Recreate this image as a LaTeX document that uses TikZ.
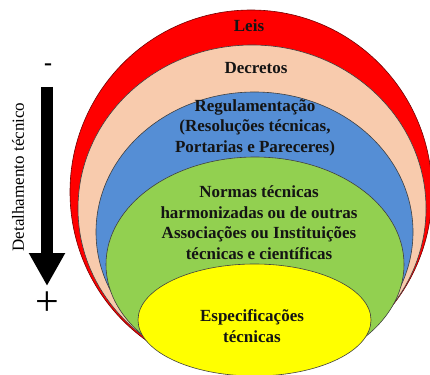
\documentclass[tikz,border=0pt]{standalone}
\usepackage{fontspec}
\setmainfont{Liberation Serif}
\usetikzlibrary{arrows.meta}
\definecolor{leiscor}{HTML}{FF0000}
\definecolor{decretocor}{HTML}{F8CBAD}
\definecolor{regcor}{HTML}{558ED5}
\definecolor{normacor}{HTML}{92D050}
\definecolor{especcor}{HTML}{FFFF00}
\begin{document}
\begin{tikzpicture}[x=1pt, y=-1pt,
	camada/.style = {draw=black!75, line width=0.6pt},
	rotulo/.style = {font=\bfseries\fontsize{17}{20.5}\selectfont, align=center, text=black!92}]
	\useasboundingbox (0,0) rectangle (430,374);
	\clip (0,0) rectangle (430,374);
	\draw[camada, fill=leiscor, draw=red!45!black] (251,192) ellipse [x radius=181, y radius=182];
	\draw[camada, fill=decretocor] (252,208.5) ellipse [x radius=174, y radius=163.5];
	\draw[camada, fill=regcor] (254.5,232) ellipse [x radius=158.5, y radius=140];
	\draw[camada, fill=normacor] (255,264.5) ellipse [x radius=149, y radius=107.5];
	\draw[camada, fill=especcor] (254.5,320) ellipse [x radius=116.5, y radius=56];
	\node[rotulo] (leis) at (249,26) {Leis};
	\node[rotulo] (decretos) at (256,68) {Decretos};
	\node[rotulo] (regulamento) at (255,127.5) {Regulamentação\\(Resoluções técnicas,\\Portarias e Pareceres)};
	\node[rotulo] (normas) at (259,222.5) {Normas técnicas\\harmonizadas ou de outras\\Associações ou Instituições\\técnicas e científicas};
	\node[rotulo] (especificacoes) at (252,326) {Especificações\\técnicas};
	\node[rotate=90, font=\fontsize{17}{17}\selectfont] (detalhe) at (18,177) {Detalhamento técnico};
	\node[font=\bfseries\fontsize{24}{24}\selectfont] (menos) at (48,67) {-};
	\node[font=\fontsize{42}{42}\selectfont] (mais) at (47,304) {+};
	\coordinate (topo) at (47,87);
	\coordinate (ponta) at (47,286);
	\draw[line width=12.5pt, -{Triangle[length=33pt, width=34pt]}] (topo) -- (ponta);
\end{tikzpicture}
\end{document}
